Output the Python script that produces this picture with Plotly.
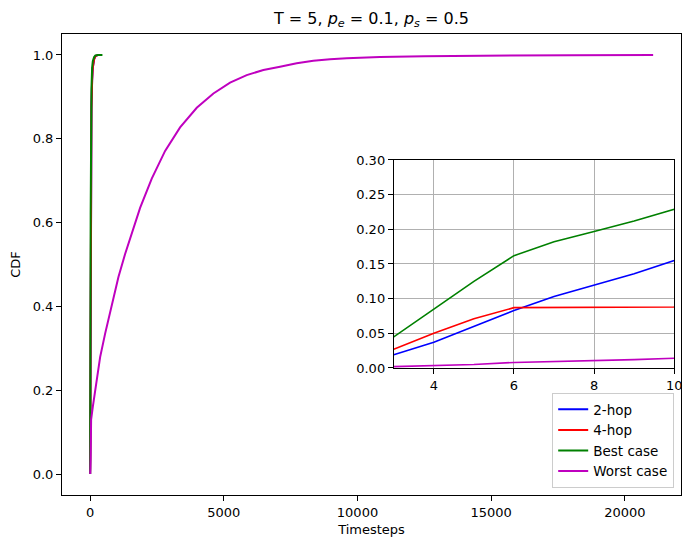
import plotly.graph_objects as go

# ---- data ----
t_fast = [0, 1, 2, 3, 4, 5, 6, 7, 8, 9, 10, 15, 20, 30, 40, 50, 75, 100, 150, 200, 300]
hop2 = [0.0, 0.002, 0.008, 0.019, 0.037, 0.060, 0.083, 0.103, 0.120, 0.136, 0.155,
        0.35, 0.52, 0.72, 0.82, 0.88, 0.94, 0.97, 0.99, 0.997, 1.0]
hop4 = [0.0, 0.005, 0.014, 0.027, 0.050, 0.071, 0.087, 0.087, 0.087, 0.087, 0.088,
        0.30, 0.48, 0.70, 0.81, 0.87, 0.94, 0.97, 0.99, 0.997, 1.0]
best = [0.0, 0.008, 0.022, 0.045, 0.085, 0.125, 0.162, 0.182, 0.197, 0.212, 0.229,
        0.45, 0.62, 0.80, 0.88, 0.92, 0.97, 0.985, 0.995, 0.999, 1.0]
hop2_t_end, hop2_end = 420, 1.0
hop4_t_end, hop4_end = 400, 1.0
best_t_end, best_end = 460, 1.0

t_worst = [0, 1, 2, 3, 4, 5, 6, 7, 8, 9, 10, 20, 37, 100, 187, 374, 561, 810, 1059, 1308,
           1558, 1869, 2305, 2804, 3364, 3988, 4611, 5234, 5857, 6480, 7103, 7726, 8349,
           8972, 9595, 10841, 12500, 14000, 16000, 18000, 21058]
worst = [0.0, 0.0, 0.001, 0.002, 0.003, 0.005, 0.008, 0.009, 0.011, 0.012, 0.014, 0.04,
         0.13, 0.16, 0.20, 0.279, 0.335, 0.406, 0.470, 0.525, 0.575, 0.635, 0.705, 0.771,
         0.827, 0.874, 0.908, 0.934, 0.952, 0.964, 0.972, 0.980, 0.986, 0.990, 0.992,
         0.995, 0.997, 0.998, 0.999, 0.9995, 1.0]

series = [
    ("2-hop", t_fast + [hop2_t_end], hop2 + [hop2_end], "#0000ff"),
    ("4-hop", t_fast + [hop4_t_end], hop4 + [hop4_end], "#ff0000"),
    ("Best case", t_fast + [best_t_end], best + [best_end], "#008000"),
    ("Worst case", t_worst, worst, "#bf00bf"),
]

title_text = "T = 5, <i>p</i><sub><i>e</i></sub> = 0.1, <i>p</i><sub><i>s</i></sub> = 0.5"
main_xticks = [0, 5000, 10000, 15000, 20000]
main_yticks = [0.0, 0.2, 0.4, 0.6, 0.8, 1.0]
inset_xticks = [4, 6, 8, 10]
inset_yticks = [0.0, 0.05, 0.10, 0.15, 0.20, 0.25, 0.30]

fig = go.Figure()
for name, x, y, c in series:
    fig.add_trace(go.Scatter(x=x, y=y, mode="lines", name=name,
                             line=dict(color=c, width=2), xaxis="x", yaxis="y"))
for name, x, y, c in series:
    fig.add_trace(go.Scatter(x=x, y=y, mode="lines", name=name, showlegend=False,
                             line=dict(color=c, width=1.6), xaxis="x2", yaxis="y2"))

font = "DejaVu Sans, Liberation Sans, sans-serif"
axis_common = dict(showline=True, linecolor="black", linewidth=1, mirror=True,
                   ticks="outside", ticklen=5, tickcolor="black", zeroline=False,
                   automargin=False,
                   tickfont=dict(family=font, size=13, color="black"))

# the page places the figure 8px from the top-left corner, so margins are shifted by 8px
W, H = 693, 548
fig.update_layout(
    width=W, height=H,
    margin=dict(l=54, r=20, t=26, b=61),
    paper_bgcolor="white", plot_bgcolor="white",
    font=dict(family=font, size=13, color="black"),
    title=dict(text=title_text, x=363.5 / W, xanchor="center",
               y=1 - 10 / H, yanchor="middle", font=dict(size=16, family=font)),
    xaxis=dict(range=[-1052, 22100], tickvals=main_xticks, tickformat="d",
               showgrid=False,
               title=dict(text="Timesteps", standoff=6, font=dict(size=13, family=font)),
               **axis_common),
    yaxis=dict(range=[-0.05, 1.05], tickvals=main_yticks, tickformat=".1f",
               showgrid=False,
               title=dict(text="CDF", standoff=10, font=dict(size=13, family=font)),
               **axis_common),
    xaxis2=dict(domain=[0.536, 0.989], anchor="y2", range=[3, 10], tickvals=inset_xticks,
                showgrid=True, gridcolor="#b0b0b0", gridwidth=1, **axis_common),
    yaxis2=dict(domain=[0.2755, 0.7267], anchor="x2", range=[0, 0.30], tickvals=inset_yticks,
                tickformat=".2f", showgrid=True, gridcolor="#b0b0b0", gridwidth=1, **axis_common),
    legend=dict(x=0.989, y=0.015, xanchor="right", yanchor="bottom",
                bgcolor="rgba(255,255,255,0.8)", bordercolor="#cccccc", borderwidth=1,
                font=dict(size=13.5, family=font), tracegroupgap=0, itemwidth=30),
    showlegend=True,
)

fig.write_html("out.html")
